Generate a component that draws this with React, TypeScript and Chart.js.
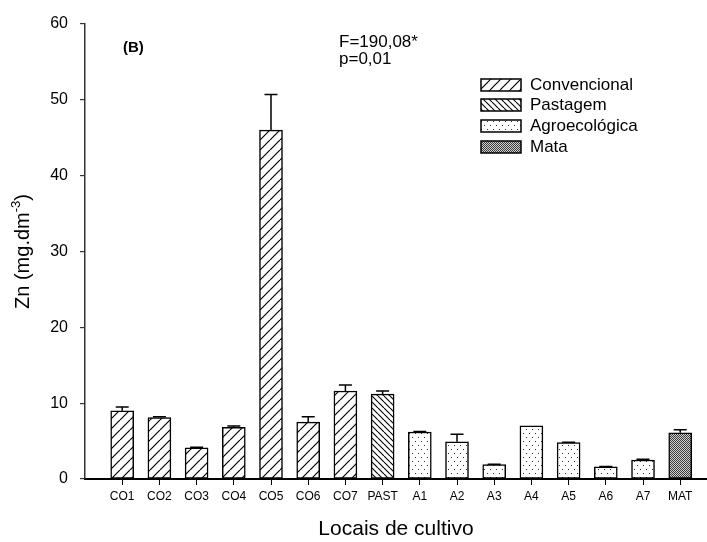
import React, { useEffect, useRef } from 'react';
import { Chart, registerables } from 'chart.js';

Chart.register(...registerables);

const FONT = "'Liberation Sans', Arial, Helvetica, sans-serif";

const categories = ['CO1', 'CO2', 'CO3', 'CO4', 'CO5', 'CO6', 'CO7', 'PAST', 'A1', 'A2', 'A3', 'A4', 'A5', 'A6', 'A7', 'MAT'];

const convencionalSites = ['CO1', 'CO2', 'CO3', 'CO4', 'CO5', 'CO6', 'CO7'];
const convencionalValues = [9.0, 8.1, 4.1, 6.8, 46.0, 7.5, 11.6];
const convencionalErrors = [0.5, 0.1, 0.1, 0.2, 4.7, 0.7, 0.8];

const pastagemSites = ['PAST'];
const pastagemValues = [11.2];
const pastagemErrors = [0.4];

const agroSites = ['A1', 'A2', 'A3', 'A4', 'A5', 'A6', 'A7'];
const agroValues = [6.2, 4.9, 1.9, 7.0, 4.8, 1.6, 2.5];
const agroErrors = [0.05, 1.0, 0.05, 0.0, 0.05, 0.05, 0.1];

const mataSites = ['MAT'];
const mataValues = [6.1];
const mataErrors = [0.4];

const seriesNames = ['Convencional', 'Pastagem', 'Agroecológica', 'Mata'];
const yTickValues = [0, 10, 20, 30, 40, 50, 60];
const statLines = ['F=190,08*', 'p=0,01'];
const panelLabel = '(B)';
const xTitle = 'Locais de cultivo';
const yTitleMain = 'Zn (mg.dm';
const yTitleSup = '-3';
const yTitleEnd = ')';

function makePattern(kind: string): CanvasPattern | string {
  const c = document.createElement('canvas');
  const g = c.getContext('2d');
  if (!g) return '#fff';
  if (kind === 'fwd') {
    const s = 10;
    c.width = s; c.height = s;
    g.fillStyle = '#fff'; g.fillRect(0, 0, s, s);
    g.strokeStyle = '#000'; g.lineWidth = 1.2;
    g.beginPath();
    for (const o of [-s, 0, s]) { g.moveTo(o, s); g.lineTo(o + s, 0); }
    g.stroke();
  } else if (kind === 'back') {
    const s = 6;
    c.width = s; c.height = s;
    g.fillStyle = '#fff'; g.fillRect(0, 0, s, s);
    g.strokeStyle = '#000'; g.lineWidth = 1.1;
    g.beginPath();
    for (const o of [-s, 0, s]) { g.moveTo(o, 0); g.lineTo(o + s, s); }
    g.stroke();
  } else if (kind === 'dots') {
    c.width = 6; c.height = 8;
    g.fillStyle = '#fff'; g.fillRect(0, 0, 6, 8);
    g.fillStyle = '#333';
    g.fillRect(1, 1, 1, 1);
    g.fillRect(4, 5, 1, 1);
  } else {
    c.width = 2; c.height = 2;
    g.fillStyle = '#d0d0d0'; g.fillRect(0, 0, 2, 2);
    g.fillStyle = '#3a3a3a';
    g.fillRect(0, 0, 1, 1);
    g.fillRect(1, 1, 1, 1);
  }
  return g.createPattern(c, 'repeat') || '#fff';
}

export default function App() {
  const ref = useRef<HTMLCanvasElement>(null);

  useEffect(() => {
    const canvas = ref.current;
    if (!canvas) return;

    const toPoints = (sites: string[], values: number[]) =>
      sites.map((s, i) => ({ x: categories.indexOf(s) + 1, y: values[i] }));

    const mk = (label: string, sites: string[], values: number[], errors: number[], bg: any) => ({
      label,
      data: toPoints(sites, values),
      errors,
      backgroundColor: bg,
      borderColor: '#000',
      borderWidth: 1.5,
      borderSkipped: false,
      barThickness: 23,
      grouped: false,
    });

    const datasets: any[] = [
      mk(seriesNames[0], convencionalSites, convencionalValues, convencionalErrors, makePattern('fwd')),
      mk(seriesNames[1], pastagemSites, pastagemValues, pastagemErrors, makePattern('back')),
      mk(seriesNames[2], agroSites, agroValues, agroErrors, makePattern('dots')),
      mk(seriesNames[3], mataSites, mataValues, mataErrors, makePattern('dense')),
    ];

    const errorBars = {
      id: 'errorBars',
      afterDatasetsDraw(chart: any) {
        const ctx = chart.ctx;
        const ys = chart.scales.y;
        chart.data.datasets.forEach((d: any, di: number) => {
          const meta = chart.getDatasetMeta(di);
          meta.data.forEach((el: any, i: number) => {
            const err = d.errors[i];
            if (!err) return;
            const v = d.data[i].y;
            const top = ys.getPixelForValue(v + err);
            ctx.save();
            ctx.strokeStyle = '#000';
            ctx.lineWidth = 1.5;
            ctx.beginPath();
            ctx.moveTo(el.x, el.y);
            ctx.lineTo(el.x, top);
            ctx.moveTo(el.x - 6.5, top);
            ctx.lineTo(el.x + 6.5, top);
            ctx.stroke();
            ctx.restore();
          });
        });
      },
    };

    const decorations = {
      id: 'decorations',
      afterDraw(chart: any) {
        const ctx = chart.ctx;
        const ca = chart.chartArea;
        ctx.save();
        ctx.fillStyle = '#000';

        // Y title with superscript
        ctx.save();
        ctx.translate(22, (ca.top + ca.bottom) / 2);
        ctx.rotate(-Math.PI / 2);
        const mainFont = `20px ${FONT}`;
        const supFont = `13px ${FONT}`;
        ctx.font = mainFont;
        const w1 = ctx.measureText(yTitleMain).width;
        const w3 = ctx.measureText(yTitleEnd).width;
        ctx.font = supFont;
        const w2 = ctx.measureText(yTitleSup).width;
        const x0 = -(w1 + w2 + w3) / 2;
        ctx.textBaseline = 'alphabetic';
        ctx.textAlign = 'left';
        ctx.font = mainFont;
        ctx.fillText(yTitleMain, x0, 7);
        ctx.font = supFont;
        ctx.fillText(yTitleSup, x0 + w1, -2);
        ctx.font = mainFont;
        ctx.fillText(yTitleEnd, x0 + w1 + w2, 7);
        ctx.restore();

        // Panel label and statistics
        ctx.textAlign = 'left';
        ctx.textBaseline = 'alphabetic';
        ctx.font = `bold 15px ${FONT}`;
        ctx.fillText(panelLabel, 123, 52);
        ctx.font = `17px ${FONT}`;
        ctx.fillText(statLines[0], 339, 47);
        ctx.fillText(statLines[1], 339, 64);

        // Legend
        const rows = [85, 105, 126, 147];
        chart.data.datasets.forEach((d: any, i: number) => {
          const cy = rows[i];
          ctx.fillStyle = d.backgroundColor;
          ctx.fillRect(481, cy - 6, 40, 12);
          ctx.strokeStyle = '#000';
          ctx.lineWidth = 1.5;
          ctx.strokeRect(481, cy - 6, 40, 12);
          ctx.fillStyle = '#000';
          ctx.font = `17px ${FONT}`;
          ctx.textBaseline = 'middle';
          ctx.fillText(d.label, 530, cy);
        });
        ctx.restore();
      },
    };

    const chart = new Chart(canvas, {
      type: 'bar',
      data: { datasets },
      options: {
        animation: false,
        responsive: false,
        devicePixelRatio: 1,
        layout: { padding: { top: 24, right: 0, left: 0, bottom: 0 } },
        plugins: { legend: { display: false }, tooltip: { enabled: false } },
        scales: {
          x: {
            type: 'linear',
            offset: false,
            min: 0,
            max: 16.72,
            afterBuildTicks: (s: any) => {
              s.ticks = categories.map((_, i) => ({ value: i + 1 }));
            },
            afterFit: (s: any) => { s.height = 63; },
            ticks: {
              autoSkip: false,
              maxRotation: 0,
              padding: 4,
              color: '#000',
              font: { family: FONT, size: 12 },
              callback: (v: any) => categories[Number(v) - 1] ?? '',
            },
            grid: { display: true, offset: false, drawOnChartArea: false, drawTicks: true, tickLength: 6, color: '#000', lineWidth: 1 },
            border: { display: true, color: '#000', width: 2 },
            title: {
              display: true,
              text: xTitle,
              color: '#000',
              font: { family: FONT, size: 21 },
              padding: { top: 0, bottom: 0 },
            },
          },
          y: {
            min: yTickValues[0],
            max: yTickValues[yTickValues.length - 1],
            afterBuildTicks: (s: any) => {
              s.ticks = yTickValues.map((v) => ({ value: v }));
            },
            afterFit: (s: any) => { s.width = 85; },
            ticks: {
              padding: 12,
              color: '#000',
              font: { family: FONT, size: 16 },
            },
            grid: { display: true, drawOnChartArea: false, drawTicks: true, tickLength: 5, color: '#333', lineWidth: 1.2 },
            border: { display: true, color: '#333', width: 1.5 },
          },
        },
      } as any,
      plugins: [errorBars, decorations],
    });

    return () => chart.destroy();
  }, []);

  return (
    <div style={{ position: 'absolute', left: 0, top: 0, width: 707, height: 542, background: '#fff' }}>
      <canvas ref={ref} width={707} height={542} style={{ display: 'block', width: 707, height: 542 }} />
    </div>
  );
}
